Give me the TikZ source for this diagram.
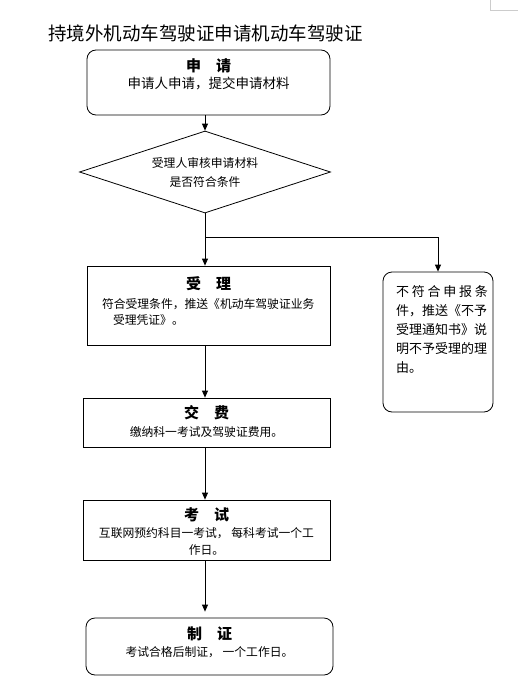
\documentclass[tikz,border=0pt]{standalone}
\usepackage{fontspec}
\setmainfont{Noto Sans CJK SC}
\usetikzlibrary{arrows.meta,shapes.geometric}

\begin{document}
\begin{tikzpicture}[x=1pt, y=-1pt, line width=0.8pt,
    box/.style={draw, inner sep=0pt},
    roundbox/.style={box, rounded corners=9pt},
    head/.style={inner sep=0pt, font=\fontsize{15}{18}\selectfont\bfseries},
    body/.style={inner sep=0pt, align=center, font=\fontsize{11.8}{17}\selectfont},
    arr/.style={-{Triangle[length=7pt,width=6pt]}}]
    \useasboundingbox (0,0) rectangle (518,696);
    \draw[gray!40, line width=0.6pt] (490,0) -- (490,10) -- (518,10);
    \node[anchor=west, inner sep=0pt, font=\fontsize{18.5}{20}\selectfont] (title) at (48,33) {持境外机动车驾驶证申请机动车驾驶证};

    \node[roundbox, minimum width=243, minimum height=65] (apply) at (208.5,82.5) {};
    \node[head] (applyhead) at ([yshift=-16]apply.north) {申\quad 请};
    \node[body, font=\fontsize{13.5}{17}\selectfont] (applytext) at ([yshift=-34]apply.north) {申请人申请，提交申请材料};

    \node[draw, diamond, inner sep=0pt, minimum width=251, minimum height=82] (check) at (205,172) {};
    \node[body, font=\fontsize{11.8}{19}\selectfont] (checktext) at (check) {受理人审核申请材料\\是否符合条件};

    \node[box, minimum width=243, minimum height=79] (accept) at (208.5,305.5) {};
    \node[head] (accepthead) at ([yshift=-18]accept.north) {受\quad 理};
    \node[body, align=left, anchor=north west, font=\fontsize{11.8}{15.5}\selectfont] (accepttext) at ([xshift=15,yshift=-33]accept.north west) {符合受理条件，推送《机动车驾驶证业务\\\hspace*{11pt}受理凭证》。};

    \node[roundbox, minimum width=110, minimum height=140] (reject) at (438,342) {};
    \node[body, align=left, anchor=north west, font=\fontsize{13}{19}\selectfont] (rejecttext) at ([xshift=13,yshift=-14]reject.north west) {\hbox to 92pt{不\hfill 符\hfill 合\hfill 申\hfill 报\hfill 条}\\件，推送《不予\\受理通知书》说\\明不予受理的理\\由。};

    \node[box, minimum width=247, minimum height=49] (fee) at (206.5,422.5) {};
    \node[head] (feehead) at ([yshift=-15]fee.north) {交\quad 费};
    \node[body] (feetext) at ([yshift=-34]fee.north) {缴纳科一考试及驾驶证费用。};

    \node[box, minimum width=247, minimum height=60] (exam) at (206.5,530) {};
    \node[head] (examhead) at ([yshift=-15]exam.north) {考\quad 试};
    \node[body] (examtext) at ([yshift=-41.5]exam.north) {互联网预约科目一考试， 每科考试一个工\\作日。};

    \node[roundbox, minimum width=247, minimum height=57] (cert) at (209.5,646.5) {};
    \node[head] (certhead) at ([yshift=-16]cert.north) {制\quad 证};
    \node[body] (certtext) at ([yshift=-35]cert.north) {考试合格后制证， 一个工作日。};

    \coordinate (branch) at (205,237);
    \draw[arr] (apply.south -| check) -- (check.north);
    \draw[arr] (check.south) -- (accept.north -| check);
    \draw[arr] (branch) -| (reject.north);
    \draw[arr] (accept.south -| check) -- (fee.north -| check);
    \draw[arr] (fee.south -| check) -- (exam.north -| check);
    \draw[arr] (exam.south -| check) -- ([yshift=6]cert.north -| check);
\end{tikzpicture}
\end{document}
